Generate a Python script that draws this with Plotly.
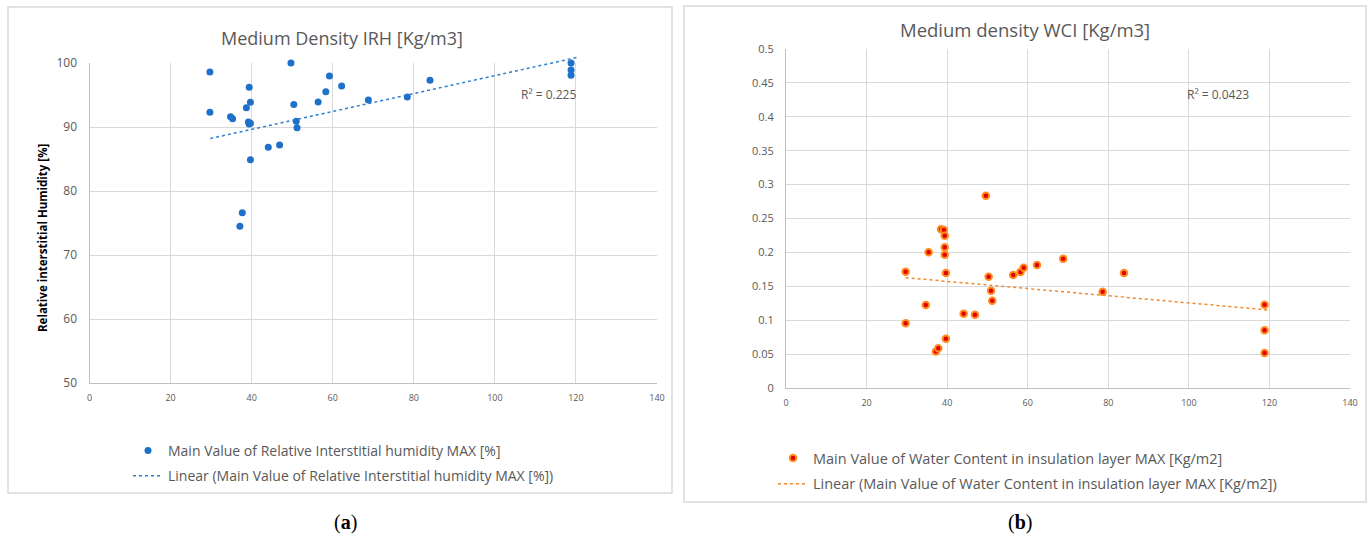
import plotly.graph_objects as go

# ---- Data ----
irh_x = [29.7, 29.7, 34.8, 35.3, 37.1, 37.7, 38.7, 39.2, 39.4, 39.4, 39.7, 39.7, 39.7,
         44.1, 46.9, 49.7, 50.4, 51.0, 51.2, 56.4, 58.3, 59.2, 62.2, 68.8, 78.4, 84.0,
         118.8, 118.8, 118.8]
irh_y = [98.6, 92.3, 91.6, 91.3, 74.5, 76.6, 93.0, 90.8, 96.2, 90.45, 93.85, 84.9, 90.6,
         86.85, 87.2, 100.0, 93.5, 90.9, 89.9, 93.9, 95.5, 97.97, 96.4, 94.2, 94.7, 97.3,
         100.0, 98.9, 98.1]
irh_trend_x = [29.8, 120.5]
irh_trend_y = [88.2, 100.9]

wci_x = [29.7, 29.7, 34.7, 35.4, 37.2, 37.8, 38.5, 39.2, 39.4, 39.4, 39.4, 39.7, 39.7,
         44.1, 46.9, 49.6, 50.3, 50.9, 51.2, 56.4, 58.2, 59.0, 62.3, 68.8, 78.6, 83.9,
         118.8, 118.8, 118.8]
wci_y = [0.1716, 0.0954, 0.1224, 0.2001, 0.054, 0.0585, 0.234, 0.233, 0.2247, 0.2075,
         0.1967, 0.1696, 0.0727, 0.1096, 0.1081, 0.2837, 0.1642, 0.1436, 0.1288, 0.1667,
         0.1711, 0.1775, 0.1814, 0.1907, 0.142, 0.1696, 0.1229, 0.0851, 0.0516]
wci_trend_x = [29.7, 119.8]
wci_trend_y = [0.1627, 0.115]

irh_name = "Main Value of Relative Interstitial humidity MAX [%]"
wci_name = "Main Value of Water Content in insulation layer MAX [Kg/m2]"
irh_r2 = "R² = 0.225"
wci_r2 = "R² = 0.0423"
x_ticks = [0, 20, 40, 60, 80, 100, 120, 140]
irh_ticks = [50, 60, 70, 80, 90, 100]
wci_ticks = [0, 0.05, 0.1, 0.15, 0.2, 0.25, 0.3, 0.35, 0.4, 0.45, 0.5]

W, H = 1370, 538
FONT = "Open Sans"
GREY = "#595959"
GRID = "#d9d9d9"

# left plot area in pixels
L_X0, L_X1, L_Y0, L_Y1 = 89.5, 657, 383, 63
IRH_RANGE = [50, 100]
EXTRA_TOP = 10  # px of headroom for the trend line above the plot top

fig = go.Figure()

fig.add_trace(go.Scatter(x=irh_x, y=irh_y, mode="markers", name=irh_name,
                         marker=dict(color="#1f70c8", size=7), cliponaxis=False,
                         xaxis="x", yaxis="y", legend="legend", legendgroup="a1"))
fig.add_trace(go.Scatter(x=irh_trend_x, y=irh_trend_y, mode="lines",
                         name="Linear (" + irh_name + ")",
                         line=dict(color="#2e7fd0", width=1.5, dash="dot"),
                         xaxis="x3", yaxis="y3", legend="legend", legendgroup="a2"))

fig.add_trace(go.Scatter(x=wci_x, y=wci_y, mode="markers", name=wci_name,
                         marker=dict(color="#e00000", size=6.5,
                                     line=dict(color="#ff8a1e", width=2)),
                         cliponaxis=False,
                         xaxis="x2", yaxis="y2", legend="legend2", legendgroup="b1"))
fig.add_trace(go.Scatter(x=wci_trend_x, y=wci_trend_y, mode="lines",
                         name="Linear (" + wci_name + ")",
                         line=dict(color="#f5892a", width=1.5, dash="dot"),
                         xaxis="x2", yaxis="y2", legend="legend2", legendgroup="b2"))


def px(v):
    return v / W


def py(v):
    return 1 - v / H


def ax(size, standoff):
    return dict(showgrid=True, gridcolor=GRID, gridwidth=1, zeroline=False,
                showline=True, linecolor="#bfbfbf", linewidth=1, ticks="",
                automargin=False, ticklabelstandoff=standoff,
                tickfont=dict(family=FONT, color=GREY, size=size))


hidden = dict(visible=False, showgrid=False, zeroline=False, showline=False,
              showticklabels=False, automargin=False)

per_px = (IRH_RANGE[1] - IRH_RANGE[0]) / (L_Y0 - L_Y1)

fig.update_layout(
    width=W, height=H,
    margin=dict(l=0, r=0, t=0, b=0, pad=0, autoexpand=False),
    paper_bgcolor="white", plot_bgcolor="rgba(0,0,0,0)",
    font=dict(family=FONT, color=GREY),
    xaxis=dict(domain=[px(L_X0), px(L_X1)], range=[0, 140], tickvals=x_ticks,
               anchor="y", **ax(9, 6)),
    yaxis=dict(domain=[py(L_Y0), py(L_Y1)], range=IRH_RANGE, tickvals=irh_ticks,
               anchor="x", **ax(12, 9)),
    xaxis3=dict(domain=[px(L_X0), px(L_X1)], range=[0, 140], anchor="y3", **hidden),
    yaxis3=dict(domain=[py(L_Y0), py(L_Y1 - EXTRA_TOP)],
                range=[IRH_RANGE[0], IRH_RANGE[1] + EXTRA_TOP * per_px],
                anchor="x3", **hidden),
    xaxis2=dict(domain=[px(786), px(1350)], range=[0, 140], tickvals=x_ticks,
                anchor="y2", **ax(9, 6)),
    yaxis2=dict(domain=[py(388), py(49)], range=[0, 0.5], tickvals=wci_ticks,
                anchor="x2", **ax(11, 9)),
    legend=dict(x=px(128), y=py(435), xanchor="left", yanchor="top",
                font=dict(family=FONT, size=14, color=GREY), bgcolor="rgba(0,0,0,0)",
                traceorder="grouped", tracegroupgap=4, itemwidth=30),
    legend2=dict(x=px(773), y=py(442), xanchor="left", yanchor="top",
                 font=dict(family=FONT, size=14.5, color=GREY), bgcolor="rgba(0,0,0,0)",
                 traceorder="grouped", tracegroupgap=4, itemwidth=30),
    showlegend=True,
)

# panel frames
fig.add_shape(type="rect", xref="paper", yref="paper",
              x0=px(8), x1=px(672), y0=py(493), y1=py(7),
              line=dict(color="#d9d9d9", width=1.5), fillcolor="rgba(0,0,0,0)", layer="below")
fig.add_shape(type="rect", xref="paper", yref="paper",
              x0=px(684), x1=px(1366), y0=py(502), y1=py(6),
              line=dict(color="#d9d9d9", width=1.5), fillcolor="rgba(0,0,0,0)", layer="below")

ann = [
    dict(text="Medium Density IRH [Kg/m3]", x=px(342), y=py(38), font=dict(size=18, color=GREY, family=FONT)),
    dict(text="Medium density WCI [Kg/m3]", x=px(1025), y=py(29), font=dict(size=18.5, color=GREY, family=FONT)),
    dict(text="<b>Relative interstitial Humidity [%]</b>", x=px(42), y=py(238), textangle=-90,
         font=dict(size=11.5, color="#000000", family=FONT)),
    dict(text=irh_r2, x=px(548), y=py(95), font=dict(size=12, color=GREY, family=FONT)),
    dict(text=wci_r2, x=px(1218), y=py(95), font=dict(size=12, color=GREY, family=FONT)),
    dict(text="(<b>a</b>)", x=px(345), y=py(522), font=dict(size=20, color="#000000", family="Liberation Serif")),
    dict(text="(<b>b</b>)", x=px(1020), y=py(522), font=dict(size=20, color="#000000", family="Liberation Serif")),
]
for a in ann:
    fig.add_annotation(xref="paper", yref="paper", showarrow=False,
                       xanchor="center", yanchor="middle", **a)

fig.write_html("out.html", config={"displayModeBar": False},
               post_script="document.body.style.margin='0';document.body.style.overflow='hidden';")
